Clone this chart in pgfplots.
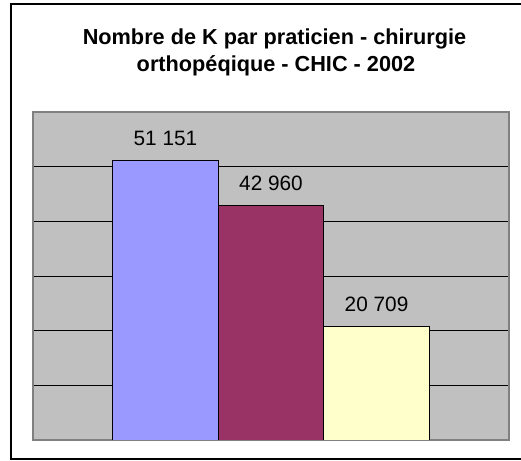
\documentclass[border=0pt]{standalone}
\usepackage{pgfplots}
\pgfplotsset{compat=1.18}
\usepackage{fontspec}
\setmainfont{Liberation Sans}
\definecolor{plotbg}{RGB}{192,192,192}
\definecolor{frameg}{RGB}{128,128,128}
\definecolor{cblue}{RGB}{153,153,255}
\definecolor{cmaroon}{RGB}{153,51,102}
\definecolor{cyellow}{RGB}{255,255,204}
\begin{document}
\begin{tikzpicture}
\begin{axis}[
  at={(33bp,21bp)}, anchor=south west,
  scale only axis, width=476bp, height=328bp,
  ybar, bar width=1, bar shift=0pt,
  xmin=-0.255, xmax=4.255,
  ymin=0, ymax=60000,
  xtick=\empty,
  ytick={10000,20000,30000,40000,50000},
  yticklabels={},
  scaled y ticks=false,
  major tick length=0pt,
  ymajorgrids,
  major grid style={black, line width=0.8bp},
  axis background/.style={fill=plotbg},
  axis line style={draw=frameg, line width=1.8bp},
  point meta=explicit symbolic,
  nodes near coords,
  every node near coord/.append style={anchor=base, yshift=15bp, inner sep=0pt, font=\fontsize{20.8bp}{24bp}\selectfont, text=black},
]
\addplot[fill=cblue, draw=black, line width=0.9bp] coordinates {(1,51151) [51 151]};
\addplot[fill=cmaroon, draw=black, line width=0.9bp] coordinates {(2,42960) [42 960]};
\addplot[fill=cyellow, draw=black, line width=0.9bp] coordinates {(3,20709) [20 709]};
\end{axis}
\draw[line width=2bp] (11bp,2bp) rectangle (540bp,457bp);
\node[anchor=base, font=\bfseries\fontsize{21.7bp}{24bp}\selectfont] at (274.5bp,416bp) {Nombre de K par praticien - chirurgie};
\node[anchor=base, font=\bfseries\fontsize{21.7bp}{24bp}\selectfont] at (276bp,389bp) {orthopéqique - CHIC - 2002};
\pgfresetboundingbox
\path (0,0) rectangle (521bp,461bp);
\end{tikzpicture}
\end{document}
